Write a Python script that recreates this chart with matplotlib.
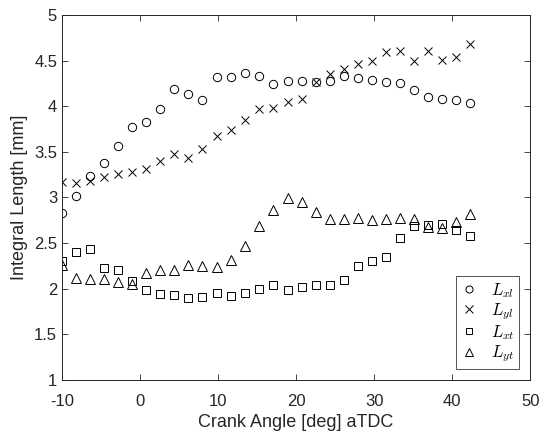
import matplotlib
matplotlib.use("Agg")
import matplotlib.pyplot as plt

plt.rcParams['font.family'] = ['Liberation Sans', 'DejaVu Sans']
plt.rcParams['mathtext.fontset'] = 'cm'

# crank angle [deg aTDC]
crank = [-10.0, -8.2, -6.4, -4.6, -2.8, -1.0, 0.8, 2.6, 4.4, 6.2,
         8.0, 9.9, 11.7, 13.5, 15.3, 17.1, 18.9, 20.7, 22.5, 24.3,
         26.1, 27.9, 29.7, 31.5, 33.3, 35.1, 36.9, 38.7, 40.5, 42.3]

L_xl = [2.83, 3.02, 3.23, 3.38, 3.56, 3.77, 3.83, 3.97, 4.19, 4.13,
        4.07, 4.32, 4.32, 4.36, 4.33, 4.24, 4.28, 4.28, 4.27, 4.28,
        4.33, 4.31, 4.29, 4.26, 4.25, 4.18, 4.10, 4.08, 4.07, 4.04]

L_yl = [3.17, 3.16, 3.18, 3.22, 3.26, 3.28, 3.31, 3.40, 3.48, 3.43,
        3.53, 3.67, 3.74, 3.85, 3.97, 3.98, 4.05, 4.08, 4.27, 4.35,
        4.41, 4.46, 4.50, 4.59, 4.60, 4.50, 4.60, 4.51, 4.54, 4.68]

L_xt = [2.30, 2.40, 2.43, 2.23, 2.21, 2.09, 1.99, 1.94, 1.93, 1.90,
        1.91, 1.95, 1.92, 1.95, 2.00, 2.04, 1.99, 2.02, 2.04, 2.04,
        2.10, 2.25, 2.30, 2.35, 2.56, 2.69, 2.70, 2.71, 2.64, 2.58]

L_yt = [2.26, 2.12, 2.11, 2.11, 2.07, 2.05, 2.17, 2.20, 2.20, 2.26,
        2.25, 2.24, 2.32, 2.47, 2.69, 2.86, 2.99, 2.95, 2.84, 2.76,
        2.76, 2.77, 2.75, 2.76, 2.77, 2.76, 2.68, 2.67, 2.73, 2.82]

grey = '#262626'

fig = plt.figure(figsize=(5.41, 4.38), dpi=100)
ax = fig.add_axes([0.1146, 0.1324, 0.8654, 0.8336])

mk = dict(linestyle='none', color='black', mfc='none', mew=0.7)
ax.plot(crank, L_xl, marker='o', ms=6, label=r'$L_{xl}$', **mk)
ax.plot(crank, L_yl, marker='x', ms=6, label=r'$L_{yl}$', **mk)
ax.plot(crank, L_xt, marker='s', ms=5.3, label=r'$L_{xt}$', **mk)
ax.plot(crank, L_yt, marker='^', ms=7, label=r'$L_{yt}$', **mk)

ax.set_xlim(-10, 50)
ax.set_ylim(1, 5)
ax.set_xticks([-10, 0, 10, 20, 30, 40, 50])
ax.set_xticklabels(['-10', '0', '10', '20', '30', '40', '50'])
ax.set_yticks([1, 1.5, 2, 2.5, 3, 3.5, 4, 4.5, 5])
ax.set_yticklabels(['1', '1.5', '2', '2.5', '3', '3.5', '4', '4.5', '5'])
ax.tick_params(direction='in', top=True, right=True, length=4, width=0.6,
               colors=grey, labelsize=12, labelcolor=grey)
ax.tick_params(axis='x', pad=10)
for s in ax.spines.values():
    s.set_color(grey)
    s.set_linewidth(0.7)

ax.set_xlabel('Crank Angle [deg] aTDC', fontsize=13, color=grey, labelpad=4)
ax.set_ylabel('Integral Length [mm]', fontsize=13, color=grey)

leg = ax.legend(loc='lower right', fontsize=12, markerscale=0.85, frameon=True,
                fancybox=False, edgecolor=grey, handlelength=1.0,
                borderaxespad=0.65, labelspacing=0.08, handletextpad=0.8,
                borderpad=0.3)
leg.get_frame().set_linewidth(0.7)

fig.savefig('out.png', dpi=100)
